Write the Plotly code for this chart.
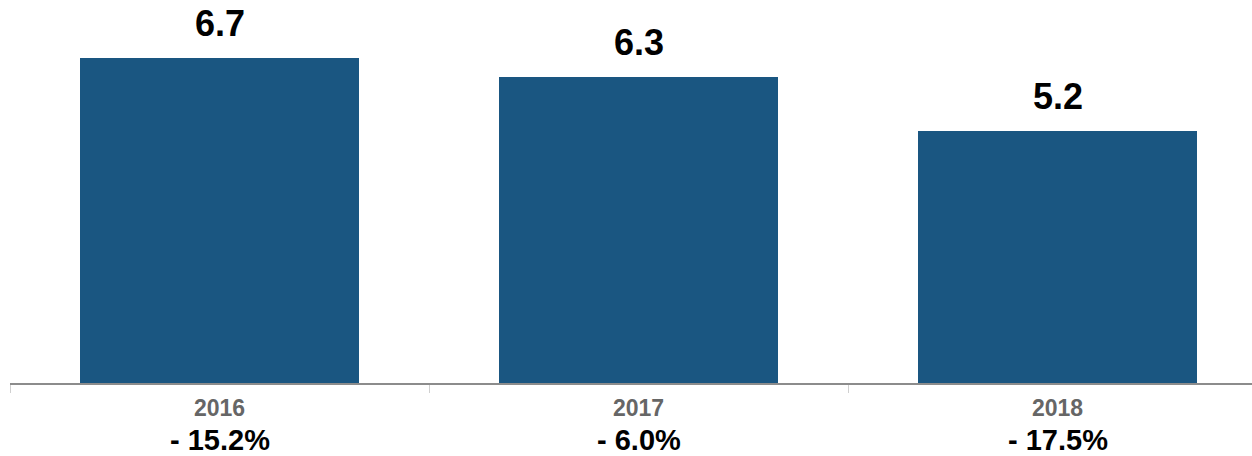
import plotly.graph_objects as go

years = ["2016", "2017", "2018"]
values = [6.7, 6.3, 5.2]
value_labels = ["6.7", "6.3", "5.2"]
changes = ["- 15.2%", "- 6.0%", "- 17.5%"]

BAR = "#1a5681"
FONT = "Liberation Sans, Arial, Helvetica, sans-serif"

fig = go.Figure()
fig.add_trace(go.Bar(x=years, y=values, marker=dict(color=BAR, line=dict(width=0)),
                     width=0.666, hoverinfo="skip"))

for i, (yr, v, lab, ch) in enumerate(zip(years, values, value_labels, changes)):
    fig.add_annotation(x=i, y=v, xref="x", yref="y", text="<b>%s</b>" % lab,
                       showarrow=False, yanchor="bottom", yshift=12,
                       font=dict(family=FONT, size=36, color="#000000"))
    fig.add_annotation(x=i, y=0, xref="x", yref="y", text="<b>%s</b>" % yr,
                       showarrow=False, yanchor="middle", yshift=-25,
                       font=dict(family=FONT, size=23, color="#666666"))
    fig.add_annotation(x=i, y=0, xref="x", yref="y", text="<b>%s</b>" % ch,
                       showarrow=False, yanchor="middle", yshift=-57,
                       font=dict(family=FONT, size=29, color="#000000"))

fig.update_layout(
    width=1252, height=456,
    margin=dict(l=10, r=0, t=0, b=73),
    paper_bgcolor="white", plot_bgcolor="white",
    showlegend=False,
    bargap=0,
    xaxis=dict(type="category", range=[-0.5, -0.5 + 1242 / 419],
               showticklabels=False, showgrid=False, zeroline=False,
               showline=True, linecolor="#8c8c8c", linewidth=1.5,
               ticks="outside", tickson="boundaries", ticklen=8,
               tickcolor="#d0d0d0", tickwidth=1),
    yaxis=dict(range=[0, 383 / 48.5], visible=False, showgrid=False,
               zeroline=False),
)

fig.write_html("out.html")
